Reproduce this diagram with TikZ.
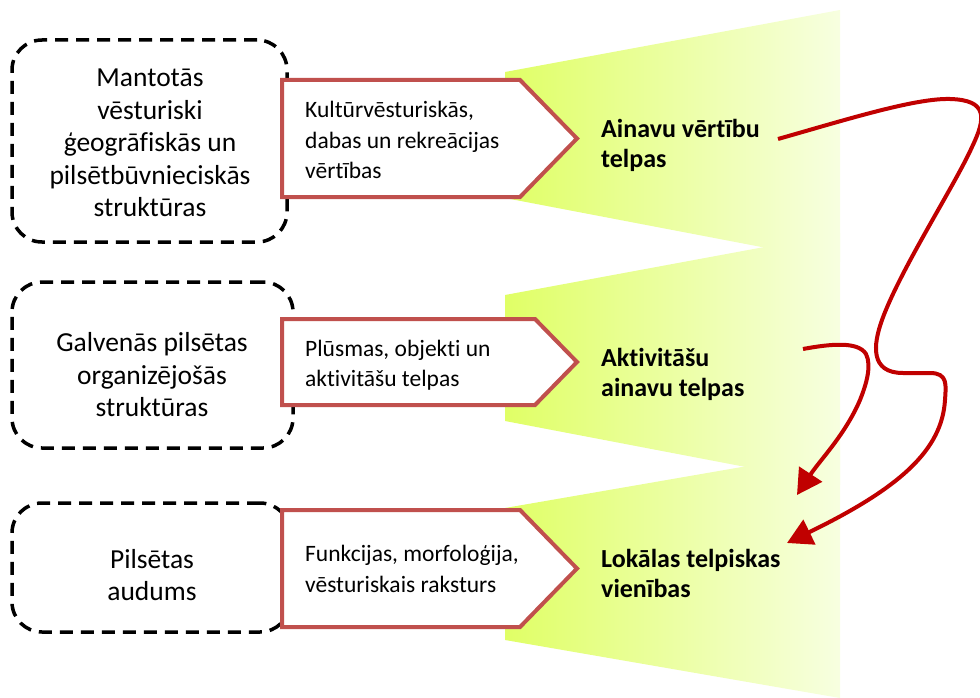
\documentclass[tikz,border=0pt]{standalone}
\usepackage{fontspec}
\setmainfont[Ligatures=NoCommon]{Carlito}
\usetikzlibrary{arrows.meta}
\definecolor{fanL}{RGB}{224,255,102}
\definecolor{fanR}{RGB}{247,255,224}
\definecolor{pentc}{RGB}{192,80,77}
\definecolor{flowc}{RGB}{192,0,0}
\tikzset{
  fan/.style={left color=fanL, right color=fanR},
  dbox/.style={draw=black, line width=3.5pt, dash pattern=on 13pt off 8pt, rounded corners=30pt, inner sep=0pt},
  ltext/.style={align=center, inner sep=0pt, font=\fontsize{27.5}{32.5}\selectfont},
  pentbox/.style={draw=pentc, fill=white, line width=4pt, line join=miter},
  ptext/.style={align=left, anchor=west, inner sep=0pt, font=\fontsize{23.5}{30.5}\selectfont},
  btext/.style={align=left, anchor=west, inner sep=0pt, font=\fontsize{26}{30}\selectfont\bfseries},
  flowarrow/.style={draw=flowc, line width=4pt, -{Triangle[length=25pt,width=27pt]}}
}
\begin{document}
\begin{tikzpicture}[x=1pt,y=-1pt]
\useasboundingbox (0,0) rectangle (980,698);
% gradient fans
\shade[fan] (505,72) -- (840,10) -- (840,262) -- (505,198) -- cycle;
\shade[fan] (505,295) -- (840,233) -- (840,485) -- (505,421) -- cycle;
\shade[fan] (505,508) -- (840,450) -- (840,698) -- (505,640) -- cycle;
% dashed boxes
\node[dbox, minimum width=275pt, minimum height=202pt] (b1) at (149.5,141) {};
\node[dbox, minimum width=281pt, minimum height=166pt] (b2) at (152.5,365) {};
\node[dbox, minimum width=278pt, minimum height=129pt] (b3) at (151,567.5) {};
\node[ltext] (t1) at (150,143) {Mantotās\\vēsturiski\\ģeogrāfiskās un\\pilsētbūvnieciskās\\struktūras};
\node[ltext] (t2) at (152,375) {Galvenās pilsētas\\organizējošās\\struktūras};
\node[ltext] (t3) at (152,575) {Pilsētas\\audums};
% pentagons
\draw[pentbox] (282,80) -- (520,80) -- (577,138.5) -- (520,197) -- (282,197) -- cycle;
\draw[pentbox] (282,319) -- (535,319) -- (577,362) -- (535,405) -- (282,405) -- cycle;
\draw[pentbox] (282,510) -- (520,510) -- (577,568.5) -- (520,627) -- (282,627) -- cycle;
\node[ptext] (p1) at (305,140) {Kultūrvēsturiskās,\\dabas un rekreācijas\\vērtības};
\node[ptext] (p2) at (305,365) {Plūsmas, objekti un\\aktivitāšu telpas};
\node[ptext] (p3) at (305,569) {Funkcijas, morfoloģija,\\vēsturiskais raksturs};
% bold labels
\node[btext] (l1) at (601,145) {Ainavu vērtību\\telpas};
\node[btext] (l2) at (601,374) {Aktivitāšu\\ainavu telpas};
\node[btext] (l3) at (601,573) {Lokālas telpiskas\\vienības};
% red flows
\coordinate (c1s) at (778,139);
\coordinate (c1e) at (787,543);
\coordinate (c2s) at (803,349);
\coordinate (c2e) at (797,495);
\draw[flowarrow] (c1s) .. controls (845,120) and (915,98) .. (950,99)
  .. controls (988,100) and (986,118) .. (972,147)
  .. controls (955,185) and (900,270) .. (882,320)
  .. controls (873,345) and (870,373) .. (903,373)
  -- (930,373)
  .. controls (948,373) and (946,385) .. (945,400)
  .. controls (942,450) and (900,488) .. (c1e);
\draw[flowarrow] (c2s) .. controls (830,344) and (858,341) .. (866,354)
  .. controls (872,366) and (866,385) .. (860,400)
  .. controls (845,435) and (820,460) .. (c2e);
\end{tikzpicture}
\end{document}
